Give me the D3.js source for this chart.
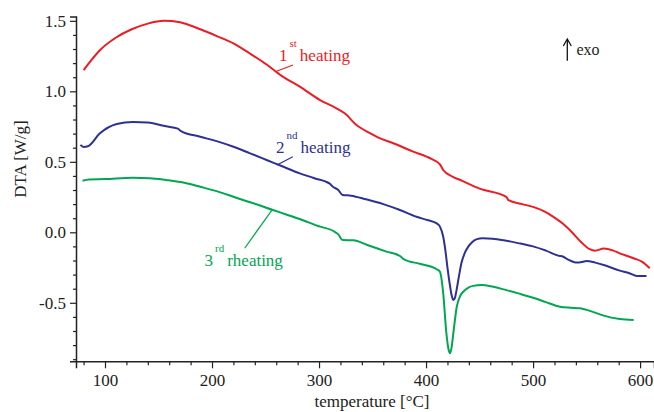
<!DOCTYPE html>
<html><head><meta charset="utf-8">
<script src="https://cdn.jsdelivr.net/npm/d3@7"></script>
<style>body{margin:0;background:#fff}svg{display:block}svg text{font-family:"Liberation Serif","Times New Roman",Times,"DejaVu Serif",serif !important}</style>
</head><body><svg id="c" width="654" height="412"></svg>
<script>
// temperature [°C], DTA [W/g]
const heating1 = [[80,1.15],[85,1.20],[95,1.29],[110,1.38],[125,1.44],[140,1.48],[155,1.50],[170,1.49],[189,1.44],[205,1.39],[220,1.34],[235,1.27],[251,1.19],[265,1.11],[282,1.033],[301,0.938],[315,0.885],[324,0.844],[335,0.761],[348,0.702],[355,0.674],[370,0.63],[388,0.572],[405,0.52],[413,0.482],[416,0.442],[425,0.394],[432,0.371],[450,0.31],[475,0.252],[477,0.228],[490,0.20],[500,0.18],[510,0.15],[519,0.11],[528,0.06],[537,-0.005],[545,-0.07],[553,-0.12],[558,-0.13],[566,-0.115],[575,-0.13],[581,-0.149],[594,-0.184],[602,-0.21],[609,-0.255]];
const heating2 = [[77,0.62],[80,0.605],[84,0.61],[95,0.70],[111,0.768],[126,0.782],[140,0.778],[157,0.752],[168,0.735],[171,0.718],[189,0.678],[205,0.645],[220,0.607],[235,0.562],[251,0.513],[265,0.47],[282,0.418],[295,0.385],[310,0.345],[313,0.323],[318,0.30],[322,0.265],[330,0.26],[344,0.234],[360,0.20],[375,0.16],[391,0.11],[402,0.085],[410,0.063],[413,0.04],[416,-0.03],[418,-0.125],[420,-0.25],[422,-0.36],[424,-0.45],[425.5,-0.48],[427,-0.465],[428.5,-0.41],[431,-0.30],[433,-0.22],[436,-0.15],[439.6,-0.10],[443,-0.07],[447,-0.05],[453,-0.043],[462,-0.045],[475,-0.06],[488,-0.08],[500,-0.10],[512,-0.13],[525,-0.168],[527,-0.17],[532,-0.19],[541,-0.215],[546,-0.21],[550,-0.203],[558,-0.215],[566,-0.232],[581,-0.272],[590,-0.29],[597,-0.31],[606,-0.31]];
const heating3 = [[79,0.366],[85,0.375],[100,0.378],[126,0.387],[142,0.384],[157,0.371],[175,0.35],[189,0.323],[205,0.29],[220,0.252],[229,0.229],[243,0.195],[257,0.158],[270,0.125],[282,0.094],[301,0.04],[313,0.011],[318,-0.015],[322,-0.055],[332,-0.057],[345,-0.09],[363,-0.137],[376,-0.17],[379,-0.19],[395,-0.225],[410,-0.262],[413,-0.28],[416,-0.43],[419,-0.716],[421,-0.83],[422.4,-0.858],[424,-0.81],[425.5,-0.716],[428.7,-0.528],[432,-0.45],[435,-0.42],[440,-0.39],[444,-0.38],[452,-0.374],[462,-0.385],[475,-0.41],[488,-0.437],[500,-0.464],[512,-0.495],[525,-0.528],[535,-0.535],[544,-0.539],[550,-0.55],[558,-0.57],[566,-0.591],[581,-0.615],[594,-0.622]];
const xTicks = [100,200,300,400,500,600];
const xTickLabels = ["100","200","300","400","500","600"];
const yTicks = [-0.5,0,0.5,1.0,1.5];
const yTickLabels = ["-0.5","0.0","0.5","1.0","1.5"];

const svg = d3.select("#c");
const x = d3.scaleLinear().domain([72.9,613]).range([76,654]);
const y = d3.scaleLinear().domain([-0.915,1.53]).range([361.3,16.6]);
const axisColor = "#222";

const xMinor = d3.range(80,613,20).filter(t=>!xTicks.includes(t));
const yMinor = d3.range(-0.9,1.53,0.1).map(v=>+v.toFixed(1)).filter(v=>!yTicks.includes(v));

const gx = svg.append("g").attr("transform",`translate(0,${y.range()[0]})`);
gx.call(d3.axisBottom(x).tickValues(xTicks).tickFormat((d,i)=>xTickLabels[i]).tickSize(7).tickPadding(6));
gx.append("g").call(d3.axisBottom(x).tickValues(xMinor).tickFormat("").tickSize(4)).select(".domain").remove();
const gy = svg.append("g").attr("transform",`translate(${x.range()[0]},0)`);
gy.call(d3.axisLeft(y).tickValues(yTicks).tickFormat((d,i)=>yTickLabels[i]).tickSize(6).tickPadding(4));
gy.append("g").call(d3.axisLeft(y).tickValues(yMinor).tickFormat("").tickSize(3)).select(".domain").remove();
svg.selectAll("g").attr("font-family",null);
svg.selectAll(".domain").attr("stroke",axisColor).attr("stroke-width",1.5);
svg.selectAll(".tick line").attr("stroke",axisColor).attr("stroke-width",1.2);
svg.selectAll(".tick text").attr("font-size",17).attr("fill","#222");

const line = d3.line().x(d=>x(d[0])).y(d=>y(d[1])).curve(d3.curveMonotoneX);
const series = [
  {data:heating1,color:"#ed1c24"},
  {data:heating2,color:"#2e3192"},
  {data:heating3,color:"#00a651"}
];
series.forEach(s=>svg.append("path").datum(s.data).attr("d",line).attr("fill","none").attr("stroke",s.color).attr("stroke-width",2));

const labels = [
  {num:"1",sup:"st",word:"heating",color:"#ed1c24",tx:279,ty:60.7,l:[[259,1.139],[275.7,1.187]]},
  {num:"2",sup:"nd",word:"heating",color:"#2e3192",tx:276,ty:153,l:[[260.7,0.477],[275.5,0.536]]},
  {num:"3",sup:"rd",word:"rheating",color:"#00a651",tx:204.5,ty:266,l:[[256,0.158],[230.5,-0.113]]}
];
labels.forEach(L=>{
  svg.append("line").attr("x1",x(L.l[0][0])).attr("y1",y(L.l[0][1])).attr("x2",x(L.l[1][0])).attr("y2",y(L.l[1][1]))
    .attr("stroke",L.color).attr("stroke-width",1.2);
  const t = svg.append("text").attr("x",L.tx).attr("y",L.ty).attr("fill",L.color).attr("font-size",17);
  t.append("tspan").text(L.num);
  t.append("tspan").attr("dx",2).attr("dy",-14).attr("font-size",11).text(L.sup);
  t.append("tspan").attr("dx",3).attr("dy",14).text(L.word);
});

svg.append("line").attr("x1",567.3).attr("x2",567.3).attr("y1",60.7).attr("y2",40).attr("stroke","#111").attr("stroke-width",1.3);
svg.append("path").attr("d","M563.3,46 L567.3,39 L571.3,46").attr("fill","none").attr("stroke","#111").attr("stroke-width",1.3);
svg.append("text").attr("x",576.5).attr("y",55).attr("font-size",16).attr("fill","#222").text("exo");

svg.append("text").attr("transform","translate(26,159) rotate(-90)").attr("text-anchor","middle").attr("font-size",17).attr("fill","#222").text("DTA [W/g]");
svg.append("text").attr("x",372).attr("y",406.5).attr("text-anchor","middle").attr("font-size",17).attr("fill","#222").text("temperature [°C]");
</script></body></html>
